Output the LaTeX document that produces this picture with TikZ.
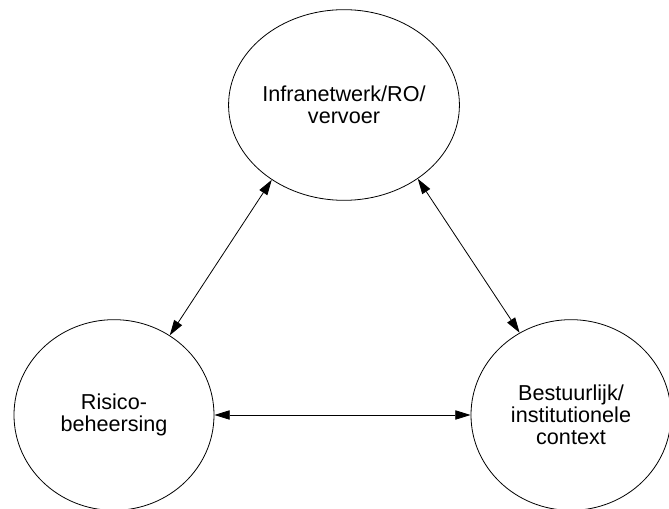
\documentclass[tikz,border=0pt]{standalone}
\usepackage{fontspec}
\setmainfont{Liberation Sans}
\usetikzlibrary{shapes.geometric,arrows.meta}

\begin{document}
\begin{tikzpicture}[x=0.75pt,y=0.75pt,
  every node/.style={font=\fontsize{16.2}{16.5}\selectfont},
  field/.style={draw,ellipse,line width=0.6pt,minimum width=150pt,minimum height=143pt,align=center,inner sep=0pt},
  link/.style={line width=0.6pt,{Triangle[length=11.5pt,width=7pt]}-{Triangle[length=11.5pt,width=7pt]}}]
\useasboundingbox (0,0) rectangle (669,-509);
\node[field] (infra) at (344,-105) {Infranetwerk/RO/\\vervoer};
\node[field] (risico) at (114,-415) {Risico-\\beheersing};
\node[field] (bestuur) at (571,-415) {Bestuurlijk/\\institutionele\\context};
\draw[link] (infra.226) -- (risico.55);
\draw[link] (infra.315) -- (bestuur.122);
\draw[link] (risico.east) -- (bestuur.west);
\end{tikzpicture}
\end{document}
